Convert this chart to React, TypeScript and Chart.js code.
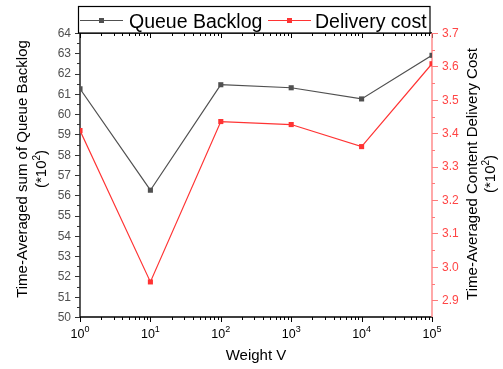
import React, { useEffect, useRef } from "react";
import { Chart, registerables } from "chart.js";

Chart.register(...registerables);

// Weight V values (log axis) and the two measured series
const weights = [1, 10, 100, 1000, 10000, 100000];
const queueBacklog = [61.25, 56.25, 61.45, 61.3, 60.75, 62.9];
const deliveryCost = [3.408, 2.955, 3.435, 3.426, 3.36, 3.608];

// Axis tick values
const backlogTicks = [50, 51, 52, 53, 54, 55, 56, 57, 58, 59, 60, 61, 62, 63, 64];
const costTicks = [2.9, 3.0, 3.1, 3.2, 3.3, 3.4, 3.5, 3.6, 3.7];
const weightExponents = [0, 1, 2, 3, 4, 5];

const seriesLabels = ["Queue Backlog", "Delivery cost"];
const leftTitle = ["Time-Averaged sum of Queue Backlog", "(*10", "2", ")"];
const rightTitle = ["Time-Averaged Content Delivery Cost", "(*10", "2", ")"];
const xTitle = "Weight V";

const FONT = '"Liberation Sans", Arial, sans-serif';
const GRAY = "#505050";
const RED = "#ff3333";
const RED_AXIS = "#ff7a7a";
const RED_TEXT = "#ff4545";

function drawRotatedTitle(ctx: CanvasRenderingContext2D, x1: number, x2: number, cy: number, parts: string[]) {
  ctx.save();
  ctx.fillStyle = "#000";
  ctx.textBaseline = "middle";
  ctx.translate(x1, cy);
  ctx.rotate(-Math.PI / 2);
  ctx.font = `15px ${FONT}`;
  ctx.textAlign = "center";
  ctx.fillText(parts[0], 0, 0);
  ctx.restore();

  // second line "(*10²)" with superscript
  ctx.save();
  ctx.fillStyle = "#000";
  ctx.translate(x2, cy);
  ctx.rotate(-Math.PI / 2);
  ctx.textBaseline = "middle";
  ctx.font = `15px ${FONT}`;
  const w1 = ctx.measureText(parts[1]).width;
  ctx.font = `10px ${FONT}`;
  const w2 = ctx.measureText(parts[2]).width;
  ctx.font = `15px ${FONT}`;
  const w3 = ctx.measureText(parts[3]).width;
  let x = -(w1 + w2 + w3) / 2;
  ctx.textAlign = "left";
  ctx.fillText(parts[1], x, 0);
  x += w1;
  ctx.font = `10px ${FONT}`;
  ctx.fillText(parts[2], x, -5);
  x += w2;
  ctx.font = `15px ${FONT}`;
  ctx.fillText(parts[3], x, 0);
  ctx.restore();
}

const axesPlugin = {
  id: "axesFrame",
  beforeDatasetsDraw(chart: any) {
    const { ctx, chartArea: a, scales } = chart;
    const xs = scales.x;
    const yl = scales.y;
    const yr = scales.y2;
    ctx.save();

    // black frame: left, bottom, top
    ctx.strokeStyle = "#000";
    ctx.lineWidth = 1.3;
    ctx.beginPath();
    ctx.moveTo(a.left, a.top);
    ctx.lineTo(a.left, a.bottom);
    ctx.lineTo(a.right, a.bottom);
    ctx.moveTo(a.left, a.top);
    ctx.lineTo(a.right, a.top);
    ctx.stroke();

    // left axis ticks and labels
    ctx.lineWidth = 1;
    ctx.strokeStyle = "#333";
    ctx.beginPath();
    backlogTicks.forEach((v, i) => {
      const y = Math.round(yl.getPixelForValue(v)) + 0.5;
      ctx.moveTo(a.left, y);
      ctx.lineTo(a.left - 5, y);
      if (i < backlogTicks.length - 1) {
        const ym = Math.round(yl.getPixelForValue(v + 0.5)) + 0.5;
        ctx.moveTo(a.left, ym);
        ctx.lineTo(a.left - 3, ym);
      }
    });
    ctx.stroke();
    ctx.fillStyle = GRAY;
    ctx.font = `12px ${FONT}`;
    ctx.textAlign = "right";
    ctx.textBaseline = "middle";
    backlogTicks.forEach((v) => {
      ctx.fillText(String(v), a.left - 9, yl.getPixelForValue(v) + 0.5);
    });

    // bottom and top log ticks
    ctx.strokeStyle = "#000";
    ctx.beginPath();
    weightExponents.forEach((e, i) => {
      const v = Math.pow(10, e);
      const x = Math.round(xs.getPixelForValue(v)) + 0.5;
      ctx.moveTo(x, a.bottom);
      ctx.lineTo(x, a.bottom + 5);
      ctx.moveTo(x, a.top);
      ctx.lineTo(x, a.top + 5);
      if (i < weightExponents.length - 1) {
        for (let m = 2; m <= 9; m++) {
          const xm = Math.round(xs.getPixelForValue(m * v)) + 0.5;
          ctx.moveTo(xm, a.bottom);
          ctx.lineTo(xm, a.bottom + 3);
          ctx.moveTo(xm, a.top);
          ctx.lineTo(xm, a.top + 3);
        }
      }
    });
    ctx.stroke();

    // x tick labels 10^n
    ctx.fillStyle = "#000";
    ctx.textBaseline = "alphabetic";
    weightExponents.forEach((e) => {
      const x = xs.getPixelForValue(Math.pow(10, e));
      ctx.font = `12.5px ${FONT}`;
      const wb = ctx.measureText("10").width;
      ctx.font = `9px ${FONT}`;
      const we = ctx.measureText(String(e)).width;
      const start = x - (wb + we) / 2;
      ctx.font = `12.5px ${FONT}`;
      ctx.textAlign = "left";
      ctx.fillText("10", start, a.bottom + 21);
      ctx.font = `9px ${FONT}`;
      ctx.fillText(String(e), start + wb, a.bottom + 15);
    });

    // right red axis
    ctx.strokeStyle = RED_AXIS;
    ctx.lineWidth = 1.3;
    ctx.beginPath();
    ctx.moveTo(a.right, a.top);
    ctx.lineTo(a.right, a.bottom);
    ctx.stroke();
    ctx.lineWidth = 1;
    ctx.beginPath();
    costTicks.forEach((v) => {
      const y = Math.round(yr.getPixelForValue(v)) + 0.5;
      ctx.moveTo(a.right, y);
      ctx.lineTo(a.right + 6, y);
      const ym = Math.round(yr.getPixelForValue(v - 0.05)) + 0.5;
      if (ym <= a.bottom) {
        ctx.moveTo(a.right, ym);
        ctx.lineTo(a.right + 3, ym);
      }
    });
    ctx.stroke();
    ctx.fillStyle = RED_TEXT;
    ctx.font = `12px ${FONT}`;
    ctx.textAlign = "left";
    ctx.textBaseline = "middle";
    costTicks.forEach((v) => {
      ctx.fillText(v.toFixed(1), a.right + 10, yr.getPixelForValue(v) + 0.5);
    });

    // axis titles
    ctx.fillStyle = "#000";
    ctx.font = `15px ${FONT}`;
    ctx.textAlign = "center";
    ctx.textBaseline = "alphabetic";
    ctx.fillText(xTitle, (a.left + a.right) / 2, 360);
    drawRotatedTitle(ctx, 23, 42, 169, leftTitle);
    drawRotatedTitle(ctx, 473, 491, 174, rightTitle);

    ctx.restore();
  },
  afterDraw(chart: any) {
    const { ctx } = chart;
    ctx.save();
    // legend box
    ctx.fillStyle = "#fff";
    ctx.fillRect(78, 6, 352, 27);
    ctx.strokeStyle = "#000";
    ctx.lineWidth = 1.2;
    ctx.strokeRect(78.5, 6.5, 351.5, 26.5);

    const items = [
      { label: seriesLabels[0], color: GRAY, x0: 80, x1: 123, tx: 129 },
      { label: seriesLabels[1], color: RED, x0: 268, x1: 311, tx: 315 },
    ];
    items.forEach((it) => {
      const y = 20.5;
      ctx.strokeStyle = it.color;
      ctx.lineWidth = 1.2;
      ctx.beginPath();
      ctx.moveTo(it.x0, y);
      ctx.lineTo(it.x1, y);
      ctx.stroke();
      ctx.fillStyle = it.color;
      const cx = (it.x0 + it.x1) / 2;
      ctx.fillRect(cx - 2.5, y - 2.5, 5, 5);
      ctx.fillStyle = "#000";
      ctx.font = `19.5px ${FONT}`;
      ctx.textAlign = "left";
      ctx.textBaseline = "alphabetic";
      ctx.fillText(it.label, it.tx, 27.5);
    });
    ctx.restore();
  },
};

export default function App() {
  const ref = useRef<HTMLCanvasElement | null>(null);

  useEffect(() => {
    if (!ref.current) return;
    const chart = new Chart(ref.current, {
      type: "line",
      data: {
        datasets: [
          {
            label: seriesLabels[0],
            data: weights.map((w, i) => ({ x: w, y: queueBacklog[i] })),
            yAxisID: "y",
            borderColor: GRAY,
            backgroundColor: GRAY,
            borderWidth: 1.2,
            pointStyle: "rect",
            pointRadius: 3.6,
            pointBorderWidth: 0,
            tension: 0,
          },
          {
            label: seriesLabels[1],
            data: weights.map((w, i) => ({ x: w, y: deliveryCost[i] })),
            yAxisID: "y2",
            borderColor: RED,
            backgroundColor: RED,
            borderWidth: 1.2,
            pointStyle: "rect",
            pointRadius: 3.6,
            pointBorderWidth: 0,
            tension: 0,
          },
        ],
      },
      options: {
        animation: false,
        responsive: false,
        devicePixelRatio: 1,
        layout: { padding: { top: 33, left: 0, right: 0, bottom: 0 } },
        plugins: { legend: { display: false }, tooltip: { enabled: false } },
        scales: {
          x: {
            type: "logarithmic",
            min: 1,
            max: 100000,
            grid: { display: false },
            border: { display: false },
            ticks: { display: false },
            afterFit: (s: any) => {
              s.height = 52;
            },
          },
          y: {
            position: "left",
            min: 50,
            max: 64,
            grid: { display: false },
            border: { display: false },
            ticks: { display: false },
            afterFit: (s: any) => {
              s.width = 80;
            },
          },
          y2: {
            position: "right",
            min: 2.85,
            max: 3.7,
            grid: { display: false },
            border: { display: false },
            ticks: { display: false },
            afterFit: (s: any) => {
              s.width = 71;
            },
          },
        },
      } as any,
      plugins: [axesPlugin],
    });
    return () => chart.destroy();
  }, []);

  return (
    <div style={{ position: "absolute", left: 0, top: 0, width: 503, height: 369, background: "#fff" }}>
      <canvas ref={ref} width={503} height={369} style={{ width: 503, height: 369, display: "block" }} />
    </div>
  );
}
